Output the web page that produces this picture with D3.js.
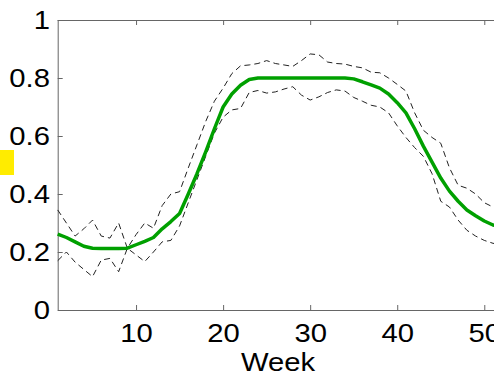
<!DOCTYPE html>
<html><head><meta charset="utf-8">
<script src="https://cdn.jsdelivr.net/npm/d3@7"></script>
<style>body{margin:0;background:#fff}svg{display:block}</style>
</head><body>
<svg id="c" width="494" height="375"></svg>
<script>
const weeks = d3.range(1, 53);
const meanValues = [0.262,0.25,0.235,0.22,0.213,0.212,0.212,0.212,0.213,0.225,0.237,0.25,0.28,0.305,0.333,0.40,0.47,0.545,0.625,0.70,0.745,0.775,0.795,0.80,0.80,0.80,0.80,0.80,0.80,0.80,0.80,0.80,0.80,0.80,0.797,0.787,0.776,0.765,0.745,0.715,0.68,0.625,0.565,0.51,0.455,0.41,0.375,0.345,0.325,0.307,0.293,0.285];
const upperValues = [0.345,0.30,0.255,0.28,0.31,0.255,0.248,0.30,0.213,0.26,0.30,0.282,0.36,0.40,0.408,0.49,0.57,0.65,0.72,0.765,0.815,0.842,0.845,0.85,0.86,0.85,0.845,0.84,0.86,0.883,0.88,0.855,0.85,0.848,0.84,0.835,0.82,0.818,0.80,0.778,0.755,0.68,0.62,0.595,0.575,0.49,0.43,0.42,0.40,0.37,0.355,0.35];
const lowerValues = [0.17,0.20,0.165,0.14,0.115,0.172,0.178,0.132,0.213,0.19,0.167,0.20,0.235,0.24,0.29,0.37,0.45,0.53,0.61,0.665,0.69,0.695,0.75,0.757,0.748,0.752,0.762,0.77,0.741,0.724,0.735,0.75,0.759,0.755,0.733,0.72,0.706,0.70,0.68,0.635,0.595,0.56,0.53,0.47,0.375,0.355,0.31,0.275,0.255,0.24,0.23,0.225];
const xTicks = [10, 20, 30, 40, 50];
const yTicks = [0, 0.2, 0.4, 0.6, 0.8, 1];
const xLabel = "Week";

const svg = d3.select("#c");
const L = 57.7, R = 501.7, T = 20, B = 310;
const x = d3.scaleLinear().domain([1, 52]).range([L, R]);
const y = d3.scaleLinear().domain([0, 1]).range([B, T]);
const FS = 25, SX = 1.17;
const font = "'Liberation Sans', Arial, Helvetica, sans-serif";
const axisColor = "#666";

svg.append("rect").attr("x", 0).attr("y", 150).attr("width", 14).attr("height", 25).attr("fill", "#ffec00");

// Box borders
svg.append("line").attr("x1", L).attr("x2", R).attr("y1", T + 0.5).attr("y2", T + 0.5).attr("stroke", axisColor);
svg.append("line").attr("x1", R).attr("x2", R).attr("y1", T).attr("y2", B).attr("stroke", axisColor);

// bottom axis
const gx = svg.append("g").attr("transform", `translate(0,${B})`)
  .call(d3.axisBottom(x).tickValues(xTicks).tickSizeInner(-5).tickSizeOuter(0).tickFormat(d3.format("d")));
gx.select(".domain").attr("stroke", axisColor);
gx.selectAll(".tick line").attr("stroke", axisColor);
gx.selectAll(".tick text").attr("y", 32).attr("dy", 0).attr("fill", "#000")
  .attr("font-size", FS).attr("font-family", font).attr("transform", `scale(${SX},1)`);

// top ticks (mirror)
const gt = svg.append("g").attr("transform", `translate(0,${T})`)
  .call(d3.axisTop(x).tickValues(xTicks).tickSizeInner(-5).tickSizeOuter(0).tickFormat(""));
gt.select(".domain").remove();
gt.selectAll(".tick line").attr("stroke", axisColor);

// left axis
const gy = svg.append("g").attr("transform", `translate(${L},0)`)
  .call(d3.axisLeft(y).tickValues(yTicks).tickSizeInner(-5).tickSizeOuter(0).tickFormat(d => d3.format("")(+d.toFixed(1))));
gy.select(".domain").attr("stroke", axisColor);
gy.selectAll(".tick line").attr("stroke", axisColor);
gy.selectAll(".tick text").attr("x", -6.6).attr("dy", "0.33em").attr("fill", "#000")
  .attr("font-size", FS).attr("font-family", font).attr("transform", `scale(${SX},1)`);

// x label
svg.append("text").attr("transform", `translate(278,371) scale(${SX},1)`).attr("text-anchor", "middle")
  .attr("font-size", FS).attr("font-family", font).attr("fill", "#000").text(xLabel);

const line = vals => d3.line().x((d, i) => x(weeks[i])).y(d => y(d))(vals);

svg.append("path").attr("d", line(upperValues)).attr("fill", "none").attr("stroke", "#222")
  .attr("stroke-width", 1).attr("stroke-dasharray", "6,4");
svg.append("path").attr("d", line(lowerValues)).attr("fill", "none").attr("stroke", "#222")
  .attr("stroke-width", 1).attr("stroke-dasharray", "6,4");
svg.append("path").attr("d", line(meanValues)).attr("fill", "none").attr("stroke", "#00a000")
  .attr("stroke-width", 3.5).attr("stroke-linejoin", "round");
</script>
</body></html>
